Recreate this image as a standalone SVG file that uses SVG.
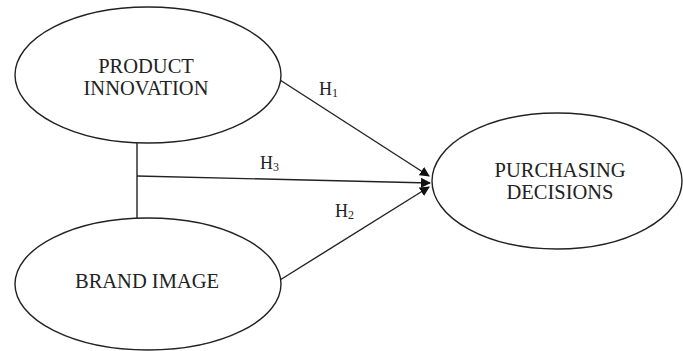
<svg xmlns="http://www.w3.org/2000/svg" width="683" height="351" viewBox="0 0 683 351">
<style>
.node{fill:#fff;stroke:#222;stroke-width:1.4}
.lbl{font-family:"Liberation Serif","Times New Roman",serif;font-size:20.5px;fill:#222;text-anchor:middle}
.h{font-family:"Liberation Serif","Times New Roman",serif;font-size:18px;fill:#222}
.sub{font-size:12px}
.edge{stroke:#222;stroke-width:1.4;fill:none}
</style>
<defs>
<marker id="arr" markerWidth="10" markerHeight="10" refX="9" refY="5" orient="auto" markerUnits="userSpaceOnUse">
<path d="M0,0 L10,5 L0,10 z" fill="#111"/>
</marker>
</defs>
<rect width="683" height="351" fill="#fff"/>
<g id="connectors">
<line class="edge" x1="137" y1="143" x2="137" y2="218"/>
<line class="edge" x1="137" y1="176" x2="430" y2="183" marker-end="url(#arr)"/>
<line class="edge" x1="280" y1="80" x2="429" y2="176" marker-end="url(#arr)"/>
<line class="edge" x1="280" y1="280" x2="429" y2="187" marker-end="url(#arr)"/>
<text class="h" x="319" y="95">H<tspan class="sub" dy="2">1</tspan></text>
<text class="h" x="260" y="169">H<tspan class="sub" dy="2">3</tspan></text>
<text class="h" x="335" y="217">H<tspan class="sub" dy="2">2</tspan></text>
</g>
<g id="product-innovation">
<ellipse class="node" cx="148" cy="75" rx="133" ry="68"/>
<text class="lbl" x="146" y="73">PRODUCT</text>
<text class="lbl" x="146" y="95">INNOVATION</text>
</g>
<g id="brand-image">
<ellipse class="node" cx="148" cy="284" rx="133" ry="66"/>
<text class="lbl" x="147" y="288">BRAND IMAGE</text>
</g>
<g id="purchasing-decisions">
<ellipse class="node" cx="557" cy="181" rx="125" ry="68"/>
<text class="lbl" x="560" y="177">PURCHASING</text>
<text class="lbl" x="560" y="199">DECISIONS</text>
</g>
</svg>
